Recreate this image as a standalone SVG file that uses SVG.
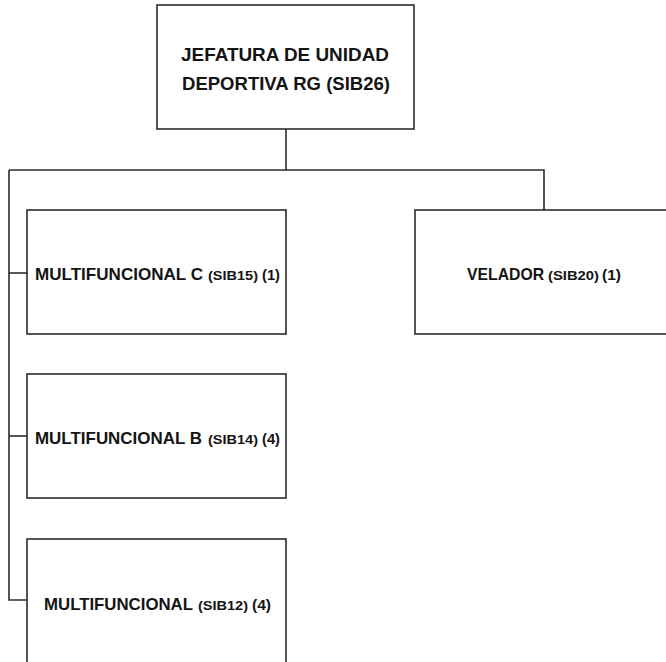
<svg xmlns="http://www.w3.org/2000/svg" width="666" height="662" viewBox="0 0 666 662">
<style>
.box{fill:#fff;stroke:#2b2b2b;stroke-width:1.6}
.ln{fill:none;stroke:#2b2b2b;stroke-width:1.6}
.t{font-family:"Liberation Sans",Arial,sans-serif;font-weight:bold;fill:#141414}
.big{font-size:16.5px}
.top{font-size:18px}
.sm{font-size:12.5px}
.num{font-size:14.5px}
</style>
<rect width="666" height="662" fill="#fff"/>
<g id="connectors">
<path class="ln" d="M286 129 V170"/>
<path class="ln" d="M9 170 H544 V210"/>
<path class="ln" d="M9 170 V600 H27"/>
<path class="ln" d="M9 273 H27"/>
<path class="ln" d="M9 436 H27"/>
</g>
<g id="jefatura">
<rect class="box" x="157" y="5" width="257" height="124"/>
<text class="t top" x="181" y="61" textLength="208" lengthAdjust="spacingAndGlyphs">JEFATURA DE UNIDAD</text>
<text class="t top" x="182" y="90" textLength="208" lengthAdjust="spacingAndGlyphs">DEPORTIVA RG (SIB26)</text>
</g>
<g id="multifuncional-c">
<rect class="box" x="27" y="210" width="259" height="124"/>
<text class="t big" x="35" y="279.5" textLength="168" lengthAdjust="spacingAndGlyphs">MULTIFUNCIONAL C</text>
<text class="t sm" x="208" y="279.5" textLength="50" lengthAdjust="spacingAndGlyphs">(SIB15)</text>
<text class="t num" x="262" y="279.5" textLength="18" lengthAdjust="spacingAndGlyphs">(1)</text>
</g>
<g id="velador">
<rect class="box" x="415" y="210" width="260" height="124"/>
<text class="t big" x="467" y="280" textLength="77" lengthAdjust="spacingAndGlyphs">VELADOR</text>
<text class="t sm" x="548" y="280" textLength="51" lengthAdjust="spacingAndGlyphs">(SIB20)</text>
<text class="t num" x="602" y="280" textLength="19" lengthAdjust="spacingAndGlyphs">(1)</text>
</g>
<g id="multifuncional-b">
<rect class="box" x="27" y="374" width="259" height="124"/>
<text class="t big" x="35" y="444" textLength="167" lengthAdjust="spacingAndGlyphs">MULTIFUNCIONAL B</text>
<text class="t sm" x="208" y="444" textLength="50" lengthAdjust="spacingAndGlyphs">(SIB14)</text>
<text class="t num" x="262" y="444" textLength="18" lengthAdjust="spacingAndGlyphs">(4)</text>
</g>
<g id="multifuncional">
<rect class="box" x="27" y="539" width="259" height="130"/>
<text class="t big" x="44" y="609.5" textLength="149" lengthAdjust="spacingAndGlyphs">MULTIFUNCIONAL</text>
<text class="t sm" x="198" y="609.5" textLength="50" lengthAdjust="spacingAndGlyphs">(SIB12)</text>
<text class="t num" x="252" y="609.5" textLength="19" lengthAdjust="spacingAndGlyphs">(4)</text>
</g>
</svg>
